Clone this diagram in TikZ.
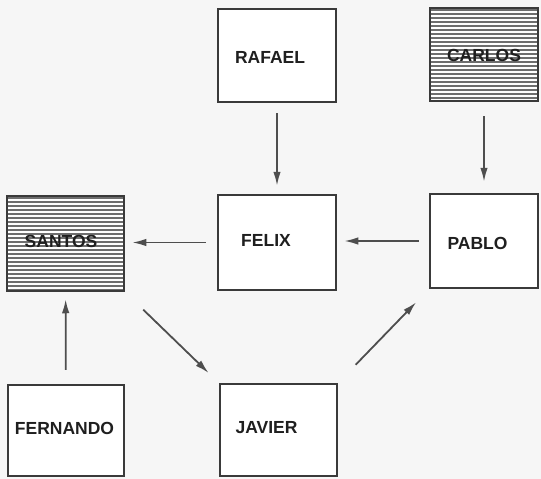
\documentclass[tikz,border=0pt]{standalone}
\usepackage{fontspec}
\setmainfont{Liberation Sans}
\usetikzlibrary{arrows.meta,calc}
\definecolor{bg}{HTML}{F6F6F6}
\definecolor{ink}{HTML}{3A3A3A}
\definecolor{hatch}{HTML}{6E6E6E}
\tikzset{
  box/.style={draw=ink, line width=2.5pt, fill=white, minimum width=#1, inner sep=0pt},
  hatched/.style={path picture={
      \foreach \k in {2,6,...,100}
        \draw[hatch, line width=1.8pt]
          ([yshift=-\k pt]path picture bounding box.north west) --
          ([yshift=-\k pt]path picture bounding box.north east);}},
  lbl/.style={font=\bfseries\fontsize{17.5}{19}\selectfont, text=black!88, inner sep=0pt},
  conn/.style={draw=ink!90, line width=1.8pt, -{Latex[length=14pt,width=7.5pt]}},
}
\begin{document}
\begin{tikzpicture}[x=1pt,y=-1pt]
\path[fill=bg] (0,0) rectangle (541,479);
\useasboundingbox (0,0) rectangle (541,479);
% boxes
\node[box=118pt, minimum height=93pt] (rafael) at (277,55.5) {};
\node[box=108pt, minimum height=93pt, hatched] (carlos) at (484,54.5) {};
\node[box=118pt, minimum height=95pt] (felix) at (277,242.5) {};
\node[box=108pt, minimum height=94pt] (pablo) at (484,241) {};
\node[box=117pt, minimum height=95pt, hatched] (santos) at (65.5,243.5) {};
\node[box=116pt, minimum height=91pt] (fernando) at (66,430.5) {};
\node[box=117pt, minimum height=92pt] (javier) at (278.5,430) {};
% labels
\node[lbl] (trafael) at ($(rafael)+(-7,1.5)$) {RAFAEL};
\node[lbl] (tcarlos) at ($(carlos)+(0,0.5)$) {CARLOS};
\node[lbl] (tfelix) at ($(felix)+(-11,-2.5)$) {FELIX};
\node[lbl] (tpablo) at ($(pablo)+(-6.5,2)$) {PABLO};
\node[lbl] (tsantos) at ($(santos)+(-4.5,-2.5)$) {SANTOS};
\node[lbl] (tfernando) at ($(fernando)+(-1.5,-2)$) {FERNANDO};
\node[lbl] (tjavier) at ($(javier)+(-12,-2)$) {JAVIER};
% connectors
\draw[conn, shorten <=10pt, shorten >=8pt] (rafael) -- (felix);
\draw[conn, shorten <=14pt, shorten >=11pt] (carlos.south) -- (pablo.north);
\draw[conn, shorten <=10pt, shorten >=7pt] (pablo.west) -- (felix.east |- pablo.west);
\draw[conn, shorten <=11pt, shorten >=7pt] (felix.west) -- (santos.east |- felix.west);
\draw[conn, shorten <=14pt, shorten >=7pt] (fernando) -- (santos);
\draw[conn, shorten <=25pt, shorten >=14pt] (santos.south east) -- (javier.north west);
\draw[conn, shorten <=25pt, shorten >=18pt] (javier.north east) -- (pablo.south west);
\end{tikzpicture}
\end{document}
